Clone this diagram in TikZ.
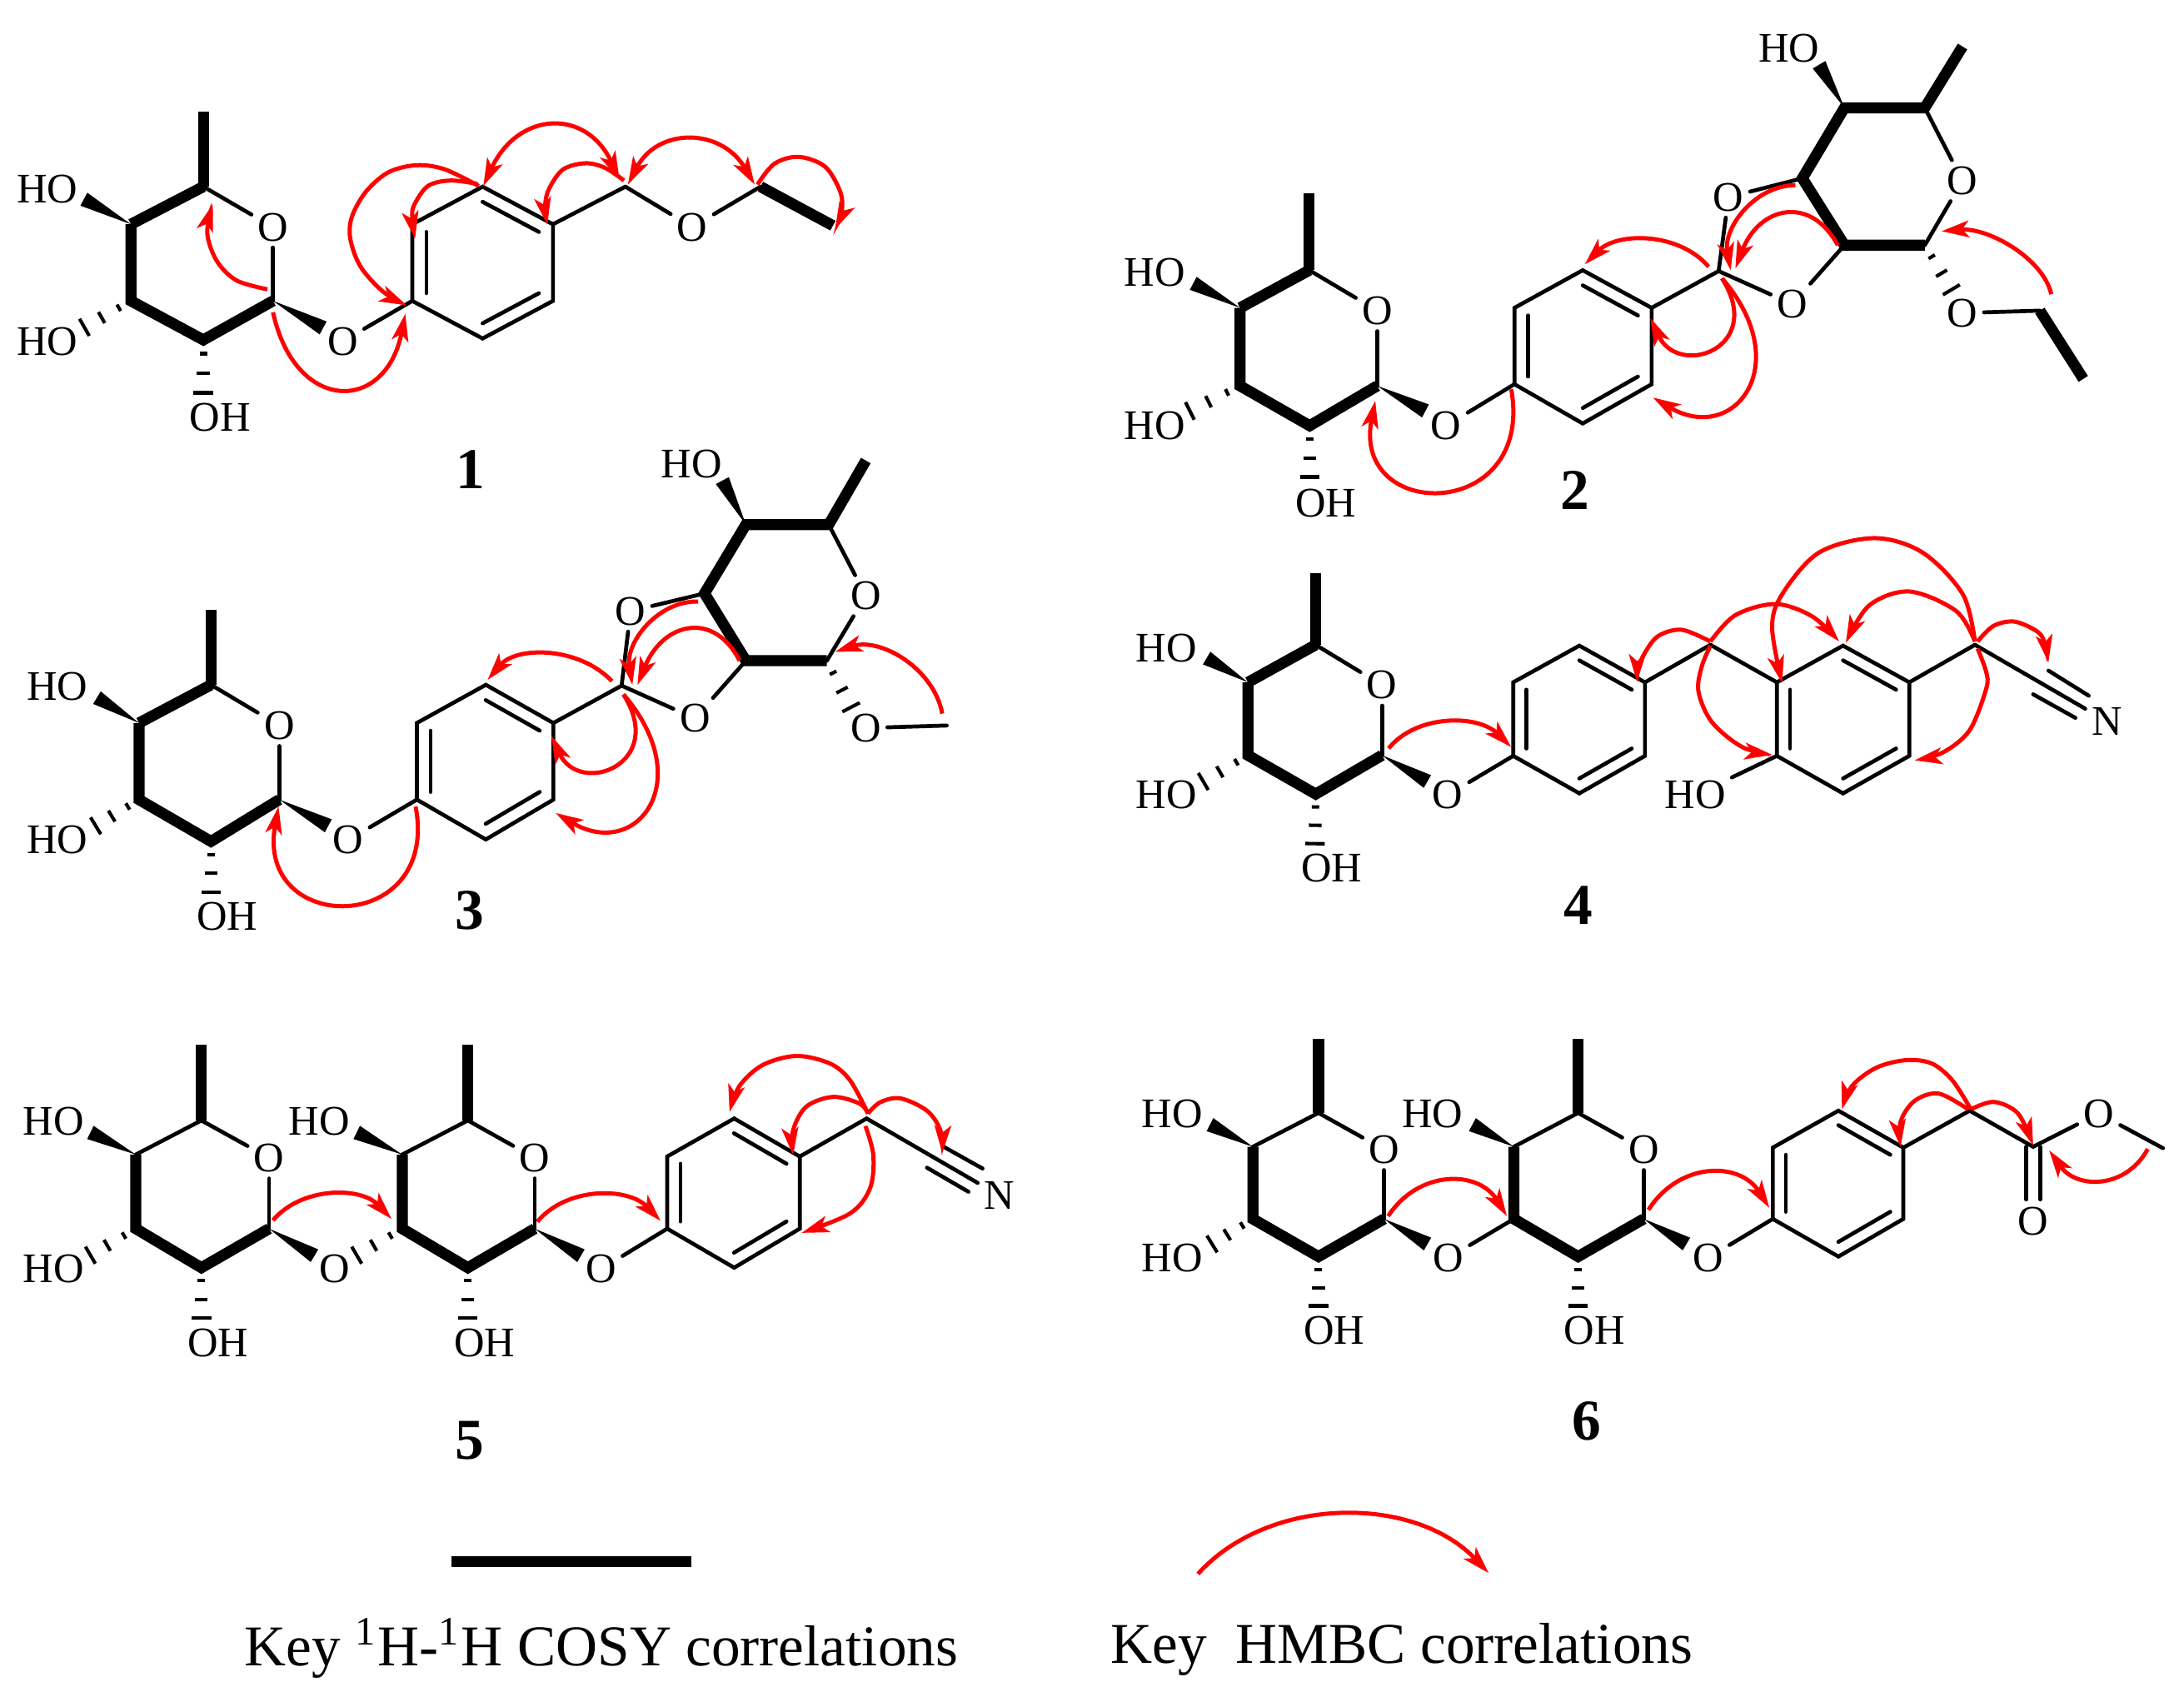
\documentclass[tikz,border=0pt]{standalone}
\usepackage{fontspec}
\setmainfont{Liberation Serif}
\usetikzlibrary{calc,arrows.meta}
\tikzset{
  x=0.01cm,y=-0.01cm,
  thinb/.style={line width=0.8pt,line cap=round,line join=miter},
  boldb/.style={line width=2.25pt,line cap=butt,line join=miter,miter limit=20},
  lab/.style={font=\fontsize{8.6}{10}\selectfont,inner sep=1.1pt},
  num/.style={font=\fontsize{11.8}{14}\selectfont\bfseries,inner sep=0pt},
  key/.style={font=\fontsize{11.78}{14}\selectfont,inner sep=0pt,anchor=base west},
  hashl/.style={line width=0.7pt,line cap=butt},
  hmbc/.style={draw=red,line width=0.85pt,line cap=butt,-{Stealth[length=5.6pt,width=3.4pt,inset=1.4pt]}},
  hmbcb/.style={draw=red,line width=0.85pt,line cap=butt,{Stealth[length=5.6pt,width=3.4pt,inset=1.4pt]}-{Stealth[length=5.6pt,width=3.4pt,inset=1.4pt]}},
}
\newcommand\atoms[2]{\foreach \n/\x/\y in {#2}{\coordinate (#1\n) at (\x,\y);}}
\newcommand\wedgeb[2]{\fill ($(#2)!1.5pt!90:(#1)$) -- (#1) -- ($(#2)!1.5pt!-90:(#1)$) -- cycle;}
\newcommand\hashb[2]{%
  \coordinate (hA) at ($(#1)!0.26!(#2)$);\coordinate (hB) at ($(#1)!0.63!(#2)$);
  \draw[hashl] ($(hA)!0.75pt!90:(#1)$) -- ($(hA)!0.75pt!-90:(#1)$);
  \draw[hashl] ($(hB)!1.3pt!90:(#1)$) -- ($(hB)!1.3pt!-90:(#1)$);
  \draw[hashl] ($(#2)!2pt!90:(#1)$) -- ($(#2)!2pt!-90:(#1)$);}
\newcommand\sugar[2]{%
  \draw[boldb] (#1Me)--(#1C5);
  \draw[#2] (#1C5)--(#1C4);
  \draw[boldb] (#1C4)--(#1C3)--(#1C2)--(#1C1);
  \node[lab] (#1Ol) at (#1O) {O};
  \node[lab] (#1HOl) at (#1HOp) {HO};
  \node[lab] (#1OHl) at (#1OHp) {OH};
  \draw[thinb] (#1C5)--(#1Ol);
  \draw[thinb] (#1Ol)--(#1C1);
  \wedgeb{#1C4}{#1W4}
  \wedgeb{#1C1}{#1W1}
  \hashb{#1C2}{#1H2}}
\newcommand\arom[1]{%
  \coordinate (#1X) at ($(#1A)!.5!(#1D)$);
  \draw[thinb] (#1A)--(#1B)--(#1C)--(#1D)--(#1E)--(#1F)--cycle;
  \draw[thinb] ($(#1A)!.2!(#1X)$)--($(#1B)!.2!(#1X)$);
  \draw[thinb] ($(#1C)!.2!(#1X)$)--($(#1D)!.2!(#1X)$);
  \draw[thinb] ($(#1E)!.2!(#1X)$)--($(#1F)!.2!(#1X)$);}
\newcommand\sugarB[1]{%
  \draw[boldb] (#1Me)--(#1c)--(#1b)--(#1a)--(#1e)--(#1d);
  \node[lab] (#1Ol) at (#1O) {O};
  \node[lab] (#1HOl) at (#1HOp) {HO};
  \node[lab] (#1Ul) at (#1U) {O};
  \node[lab] (#1Rl) at (#1R) {O};
  \node[lab] (#1Tl) at (#1T) {O};
  \draw[thinb] (#1c)--(#1Ol);
  \draw[thinb] (#1Ol)--(#1d);
  \draw[thinb] (#1a)--(#1Ul);
  \draw[thinb] (#1Ul)--(#1G);
  \draw[thinb] (#1e)--(#1Rl);
  \draw[thinb] (#1Rl)--(#1G);
  \wedgeb{#1b}{#1Wb}
  \hashb{#1d}{#1Hd}}
\newcommand\harc[4]{%
  \coordinate (#1s) at (#2);\coordinate (#1m) at (#3);\coordinate (#1t) at (#4);
  \draw[hmbc] (#1s) .. controls ($0.0833*(#1s)+1.3333*(#1m)-0.4167*(#1t)$) and ($-0.4167*(#1s)+1.3333*(#1m)+0.0833*(#1t)$) .. (#1t);}
\newcommand\harcb[4]{%
  \coordinate (#1s) at (#2);\coordinate (#1m) at (#3);\coordinate (#1t) at (#4);
  \draw[hmbcb] (#1s) .. controls ($0.0833*(#1s)+1.3333*(#1m)-0.4167*(#1t)$) and ($-0.4167*(#1s)+1.3333*(#1m)+0.0833*(#1t)$) .. (#1t);}
\newcommand\hcurve[4]{%
  \coordinate (#1s) at (#2);\coordinate (#1t) at (#4);
  \draw[hmbc] plot[smooth,tension=0.55] coordinates {(#1s) #3 (#1t)};}
\newcommand\hctrl[5]{%
  \coordinate (#1s) at (#2);\coordinate (#1t) at (#5);
  \draw[hmbc] (#1s) .. controls (#3) and (#4) .. (#1t);}
\begin{document}
\begin{tikzpicture}
\useasboundingbox (0,0) rectangle (1568,1225);
\fill[white] (0,0) rectangle (1568,1225);

% ---------- 1 ----------
\atoms{a}{Me/146/80,C5/146/134,C4/94/161,C3/94/216,C2/146/244,C1/196/216,O/196/163,L/246/245,HOp/34/136,HTp/34/245,OHp/158/299.6,W4/60.2/143,W1/232/235.4,H3/60.6/235,H2/146/282,
A/296/216,B/296/161,C/346.5/134,D/397/161,E/397/216,F/346.5/243,P/449/134,Q/497/163,S/546/134,T/598/162}
\sugar{a}{boldb}
\node[lab] (aHTl) at (aHTp) {HO};
\node[lab] (aLl) at (aL) {O};
\hashb{aC3}{aH3}
\arom{a}
\draw[thinb] (aLl)--(aA);
\draw[thinb] (aD)--(aP);
\node[lab] (aQl) at (aQ) {O};
\draw[thinb] (aP)--(aQl);
\draw[thinb] (aQl)--(aS);
\draw[boldb] (aS)--(aT);
\node[num] (n1) at (337.6,337) {1};
\hcurve{ar1}{192,207.7}{(169.8,201.3) (155.7,187.4) (148.8,167.4)}{152.8,146.5}
\hctrl{ar2}{196,224.2}{212,297}{277,297}{291,225.2}
\hcurve{ar3}{343.7,133.5}{(319.4,121.6) (299.2,118.6) (279,123.6) (262.8,137.5) (252.7,155.5) (251.5,171.4) (258.8,191.3) (274.9,209.3)}{292,219.2}
\hcurve{ar4}{342.8,132}{(323.4,129.6) (307.3,133.5) (297.2,147.5) (296,157.5)}{298,171.4}
\harcb{ar5}{347,133.5}{396.2,91.7}{444.7,128.6}
\hcurve{ar6}{448,129.6}{(434.6,120.6) (420.5,117.2) (404.3,121.6) (394.2,135.5) (391.4,147.5)}{393,161.4}
\harcb{ar7}{450.8,132.5}{495.3,101.7}{541.8,132.5}
\hcurve{ar8}{543.8,132.5}{(555.9,117.6) (573.3,112.6) (592.3,119.6) (603.2,137.5) (604.4,151.5)}{599.6,164.4}

% ---------- 2 ----------
\atoms{b}{Me/940/139,C5/940/194,C4/890.3/221,C3/890.3/277,C2/940.3/305.6,C1/988.8/277,O/988.8/223,L/1038.3/305.6,HOp/829/195.5,HTp/829/305.6,OHp/951.8/361,W4/856.7/203.4,W1/1023.4/295,H3/854.3/295,H2/940.3/342.4,
A/1087.3/275.8,B/1087.3/221,C/1136.3/194,D/1185.8/221,E/1185.8/275.8,F/1136.3/304,G/1233.9/194.6}
\sugar{b}{boldb}
\node[lab] (bHTl) at (bHTp) {HO};
\node[lab] (bLl) at (bL) {O};
\hashb{bC3}{bH3}
\arom{b}
\draw[thinb] (bLl)--(bA);
\draw[thinb] (bD)--(bG);
\atoms{c}{G/1233.9/194.6,U/1241/141.5,R/1286.7/218.3,a/1294/128,b/1324.2/77.4,c/1381.9/77.4,Me/1409/33.4,O/1409/129.7,d/1381.9/176,e/1324.2/176,HOp/1284.3/34.6,Wb/1306/46.5,Hd/1401/208,T/1409/224.7,V/1464.5/223,Z/1495.7/272}
\sugarB{c}
\draw[thinb] (cTl)--(cV);
\draw[boldb] (cV)--(cZ);
\node[num] (n2) at (1130.6,352) {2};
\hctrl{br1}{1085,279.4}{1102,375}{970,375}{987.4,287.7}
\harc{br2}{1226.7,191.5}{1183.4,172.5}{1137.8,189.8}
\harc{br3}{1289,133}{1253,152}{1242.5,194}
\harc{br4}{1319.4,176}{1281.9,154}{1245.9,192.6}
\hctrl{br5}{1236.3,199.8}{1268,250}{1205,272}{1184.9,228.3}
\hctrl{br6}{1236.3,199.8}{1290,262}{1245,320}{1186.8,285.4}
\harc{br7}{1472.7,211.2}{1444,178}{1393.9,166}

% ---------- 3 ----------
\atoms{d}{Me/151.5/437.5,C5/151.5/491.6,C4/99.8/519,C3/99.8/574,C2/151.5/604,C1/200.5/574,O/200.5/520.8,L/250/603,HOp/41.2/493,HTp/41.2/603,OHp/163/658,W4/69.6/500.8,W1/235.7/592.8,H3/68.7/592.8,H2/151.5/640.4,
A/299.3/574,B/299.3/519,C/348.8/491.6,D/397.3/519,E/397.3/574,F/348.8/602.6,G/446.3/492.2}
\sugar{d}{boldb}
\node[lab] (dHTl) at (dHTp) {HO};
\node[lab] (dLl) at (dL) {O};
\hashb{dC3}{dH3}
\arom{d}
\draw[thinb] (dLl)--(dA);
\draw[thinb] (dD)--(dG);
\atoms{e}{G/446.3/492.2,U/452.7/438.7,R/498.9/515.7,a/505.8/426,b/535.5/376.6,c/595/376.6,Me/621.6/330.6,O/621.6/427.6,d/593.6/474.3,e/535.5/474.3,HOp/496.6/332.9,Wb/518.6/345,Hd/611/507.7,T/621.6/522.6,V/679.7/520.8}
\sugarB{e}
\draw[thinb] (eTl)--(eV);
\node[num] (n3) at (337,653.7) {3};
\hctrl{dr1}{298.4,579}{316,672}{183,672}{200,579}
\harc{dr2}{439.4,489}{393.6,470}{350.1,488}
\harc{dr3}{501.2,431.8}{465,450}{454,491.6}
\harc{dr4}{531,474.3}{494.3,452.5}{457.7,491.6}
\hctrl{dr5}{447.6,498.5}{479.3,548.7}{416,572.1}{395.9,528.4}
\hctrl{dr6}{447.6,498.5}{501.3,560.7}{457.2,618.2}{399,583.6}
\harc{dr7}{676.5,512.3}{648,474}{599.6,467.9}

% ---------- 4 ----------
\atoms{f}{Me/944.6/411.7,C5/944.6/462.9,C4/896/489.8,C3/896/542.2,C2/944.6/570,C1/992.2/542.2,O/992.2/491.8,L/1039.3/570.7,HOp/837.4/465,HTp/837.4/570.7,OHp/956.1/623.3,W4/866.3/472.4,W1/1024.8/561,H3/863.9/561,H2/944.1/605.6,
A/1086.4/542.6,B/1086.4/489.8,C/1133.9/463.5,D/1181/489.8,E/1181/542.6,F/1133.9/569.5,P/1228/462.9}
\sugar{f}{boldb}
\node[lab] (fHTl) at (fHTp) {HO};
\node[lab] (fLl) at (fL) {O};
\hashb{fC3}{fH3}
\arom{f}
\draw[thinb] (fLl)--(fA);
\draw[thinb] (fD)--(fP);
\atoms{g}{A/1275.7/542.6,B/1275.7/489.8,C/1323.2/463.5,D/1370.8/489.8,E/1370.8/542.6,F/1323.2/569.5,P/1417.9/462.9,Np/1512.6/517.7,HOp/1217/570.7,
s1/1470.7/481.4,s2/1499.6/499.4,s3/1459.7/498.4,s4/1490/515.3}
\arom{g}
\draw[thinb] (fP)--(gB);
\draw[thinb] (gD)--(gP);
\node[lab] (gNl) at (gNp) {N};
\node[lab] (gHOl) at (gHOp) {HO};
\draw[thinb] (gP)--(gNl);
\draw[thinb] (gs1)--(gs2);
\draw[thinb] (gs3)--(gs4);
\draw[thinb] (gA)--(gHOl);
\node[num] (n4) at (1133,649.8) {4};
\harc{fr1}{997,537.2}{1039.3,518.7}{1084.9,536.2}
\hcurve{fr2}{1228,460.5}{(1207.4,452.1) (1190.6,456.5) (1181,468.5) (1176.2,479.4)}{1175.2,489.4}
\hcurve{fr3}{1228,460.5}{(1245.9,441.6) (1274.7,433.6) (1301.1,442.5)}{1320.4,460.5}
\hcurve{fr4}{1228,463.5}{(1221.8,478.4) (1219.4,496.4) (1229,518.3) (1250.7,536.2)}{1272.3,541.8}
\hcurve{fr5}{1417.9,460.5}{(1404.4,438.6) (1370.8,424.6) (1342,434.6)}{1325.2,461.5}
\hcurve{fr6}{1417.9,460.5}{(1409.2,426.6) (1380.4,396.7) (1345.8,386.3) (1305.9,396.7) (1279.5,426.6) (1272.3,450.5)}{1279.5,490.4}
\hcurve{fr7}{1419.8,465.5}{(1426,482.4) (1426,494.4) (1414,524.3) (1394.8,540.2)}{1374.7,545.8}
\hcurve{fr8}{1419.8,460.5}{(1430.9,449.5) (1445.3,446.1) (1459.7,451.5) (1466.9,458.5)}{1470.7,475.4}

% ---------- 5 ----------
\atoms{h}{Me/144.6/749.9,C5/144.6/804.3,C4/97.5/828.8,C3/97.5/882,C2/144.6/910,C1/193.2/882,O/193.2/831.2,L/240.3/911,HOp/38.4/804.9,HTp/38.4/911,OHp/156.6/964.1,W4/64.9/812.9,W1/225.8/901.4,H3/64.9/901,H2/144.6/946.2}
\sugar{h}{thinb}
\node[lab] (hHTl) at (hHTp) {HO};
\node[lab] (hLl) at (hL) {O};
\hashb{hC3}{hH3}
\atoms{i}{Me/335.9/749.9,C5/335.9/804.3,C4/288.8/828.8,C3/288.8/882,C2/335.9/910,C1/383.9/882,O/383.9/831.2,L/431.5/911,HOp/229.2/804.9,OHp/347.9/964.1,W4/256.1/812.9,W1/417.1/901.4,H3/256.1/901,H2/335.9/946.2,
A/479/882,B/479/830.2,C/527.1/802.9,D/574.2/830.2,E/574.2/882,F/527.1/910,P/622.2/802.9,Np/717.4/858.1,s1/677.5/823.2,s2/705.4/838.8,s3/665.5/838.2,s4/695.3/855.5}
\sugar{i}{thinb}
\node[lab] (iLl) at (iL) {O};
\hashb{iC3}{iH3}
\arom{i}
\draw[thinb] (iLl)--(iA);
\draw[thinb] (iD)--(iP);
\node[lab] (iNl) at (iNp) {N};
\draw[thinb] (iP)--(iNl);
\draw[thinb] (is1)--(is2);
\draw[thinb] (is3)--(is4);
\node[num] (n5) at (337,1034) {5};
\harc{ir1}{196,876}{237.8,857.7}{281.1,875}
\harc{ir2}{385.8,877}{429,858.1}{474.3,876.4}
\hcurve{ir3}{623.2,799.3}{(610.2,775.4) (595.8,763.4) (571.8,758) (547.8,764.4) (531,779.4)}{523.8,798.3}
\hcurve{ir4}{623.2,799.3}{(617.4,792.3) (598.2,787.4) (579,794.3) (569.4,811.3)}{569.4,829.2}
\hcurve{ir5}{623.2,799.3}{(631.9,791.3) (646.3,788.4) (665.5,797.3) (675.1,811.3)}{676.5,827.6}
\hcurve{ir6}{621.3,808.3}{(627,829.2) (624.6,853.1) (610.2,871.1)}{575.6,885}

% ---------- 6 ----------
\atoms{j}{Me/946.6/745.5,C5/946.6/798.9,C4/899.5/823.2,C3/899.5/875,C2/946.6/902,C1/993.7/875,O/993.7/825.2,L/1039.8/903,HOp/841.5/799.7,HTp/841.5/903,OHp/958/955.2,W4/868.7/807.3,W1/1024.9/893,H3/870.2/893,H2/946.6/937.4}
\sugar{j}{thinb}
\node[lab] (jHTl) at (jHTp) {HO};
\node[lab] (jLl) at (jL) {O};
\hashb{jC3}{jH3}
\atoms{k}{Me/1133/745.5,C5/1133/798.9,C4/1086.9/823.2,C3/1086.9/875,C2/1133/902,C1/1180.1/875,O/1180.1/825.2,L/1226.2/903,HOp/1028.4/799.7,OHp/1144.9/955.2,W4/1057.1/807.3,W1/1210.8/893,H2/1133/937.4,
A/1272.8/875,B/1272.8/823.8,C/1319.9/797.3,D/1366.5/823.8,E/1366.5/875,F/1319.9/902,P/1414.1/797.3,G/1459.7/823.2,Up/1506.8/799.3,V/1552.9/824.2,Lo/1459.7/877,
x1/1454.7/823.2,x2/1454.7/861,x3/1464.7/823.2,x4/1464.7/861}
\sugar{k}{thinb}
\node[lab] (kLl) at (kL) {O};
\draw[thinb] (jLl)--(kC3);
\arom{k}
\draw[thinb] (kLl)--(kA);
\draw[thinb] (kD)--(kP)--(kG);
\node[lab] (kUl) at (kUp) {O};
\node[lab] (kLol) at (kLo) {O};
\draw[thinb] (kG)--(kUl);
\draw[thinb] (kUl)--(kV);
\draw[thinb] (kx1)--(kx2);
\draw[thinb] (kx3)--(kx4);
\node[num] (n6) at (1139,1020) {6};
\harc{kr1}{996.6,873}{1039.8,848}{1081.9,873}
\harc{kr2}{1183.5,868.5}{1227.2,842.2}{1270.3,867}
\hcurve{kr3}{1415,796.3}{(1401.6,775.4) (1386.8,763.4) (1368.5,761) (1347.2,766.4) (1329.8,779.4)}{1322.4,796.3}
\hcurve{kr4}{1413,796.3}{(1391.8,785) (1374.5,790.3) (1364.5,805.3)}{1364.5,823.2}
\hcurve{kr5}{1415,796.3}{(1431.5,791) (1448.8,799.3)}{1459.7,822.2}
\harc{kr6}{1542,824.8}{1508.3,846.7}{1471.2,825.8}

% ---------- key ----------
\coordinate (barL) at (324,1120.8);
\coordinate (barR) at (496.4,1120.8);
\draw[line width=2.15pt] (barL)--(barR);
\harc{lk}{860.1,1129.8}{963.7,1087.3}{1068.8,1129.2}
\node[key] (k1) at (175,1196) {Key \textsuperscript{1}H-\textsuperscript{1}H COSY correlations};
\node[key] (k2) at (797,1194) {Key\ \ HMBC correlations};
\end{tikzpicture}
\end{document}
